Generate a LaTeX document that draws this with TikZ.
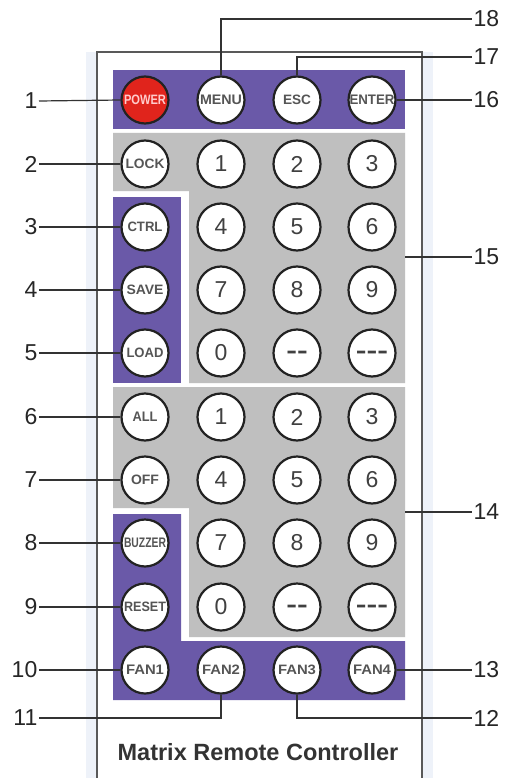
\documentclass[tikz,border=0pt]{standalone}
\usepackage{fontspec}
\setmainfont{Liberation Sans}
\definecolor{purp}{HTML}{6A59A8}
\definecolor{pgray}{HTML}{BFBFBF}
\definecolor{pred}{HTML}{E0241C}
\definecolor{btnline}{HTML}{222222}
\definecolor{btntext}{HTML}{555555}
\definecolor{bodyshade}{HTML}{EEF2F9}
\newcommand\bt[2]{\resizebox{#1pt}{9.5pt}{#2}}
\begin{document}
\begin{tikzpicture}[x=1pt,y=-1pt,
  btn/.style={circle, draw=btnline, line width=2.2pt, fill=white, minimum size=47pt, inner sep=0pt, text=btntext, font=\fontsize{13}{13}\selectfont\bfseries},
  num/.style={btn, text=black!75, font=\fontsize{23}{23}\selectfont},
  dsh/.style={num, text height=11.7pt, text depth=0pt, font=\fontsize{23}{23}\selectfont\bfseries},
  lbl/.style={font=\fontsize{23}{23}\selectfont, text=black!85, inner sep=1.5pt},
  lead/.style={draw=black!80, line width=1.2pt}]
\useasboundingbox (0,0) rectangle (511,778);
\fill[white] (0,0) rectangle (511,778);
% body shading strips
\fill[bodyshade] (86,52) rectangle (97,778);
\fill[bodyshade] (422,52) rectangle (433,778);
% panels
\fill[purp] (113,70) rectangle (405,129);
\fill[pgray] (113,133) -- (405,133) -- (405,383) -- (189,383) -- (189,191) -- (113,191) -- cycle;
\fill[purp] (113,197) rectangle (181,383);
\fill[pgray] (113,387) -- (405,387) -- (405,637) -- (189,637) -- (189,508) -- (113,508) -- cycle;
\fill[purp] (113,514) -- (181,514) -- (181,641) -- (405,641) -- (405,700) -- (113,700) -- cycle;
% outline
\draw[black!65, line width=1.3pt] (97,778) -- (97,52) -- (422,52) -- (422,778);
% buttons
\node[btn, fill=pred, text=red!20] (power) at (145,100) {\bt{42}{POWER}};
\node[btn] (menu) at (221,100) {\bt{42}{MENU}};
\node[btn] (esc) at (297,100) {\bt{28}{ESC}};
\node[btn] (enter) at (372,100) {\bt{45}{ENTER}};
\node[btn] (lock) at (145,164) {\bt{39}{LOCK}};
\node[num] (a1) at (221,164) {1};
\node[num] (a2) at (297,164) {2};
\node[num] (a3) at (372,164) {3};
\node[btn] (ctrl) at (145,227) {\bt{35}{CTRL}};
\node[num] (a4) at (221,227) {4};
\node[num] (a5) at (297,227) {5};
\node[num] (a6) at (372,227) {6};
\node[btn] (save) at (145,290) {\bt{37}{SAVE}};
\node[num] (a7) at (221,290) {7};
\node[num] (a8) at (297,290) {8};
\node[num] (a9) at (372,290) {9};
\node[btn] (load) at (145,353) {\bt{37}{LOAD}};
\node[num] (a0) at (221,353) {0};
\node[dsh] (ad2) at (297,353) {\scalebox{1.4}[1]{-{}-}};
\node[dsh] (ad3) at (372,353) {\scalebox{1.4}[1]{-{}-{}-}};
\node[btn] (all) at (145,417) {\bt{25}{ALL}};
\node[num] (b1) at (221,417) {1};
\node[num] (b2) at (297,417) {2};
\node[num] (b3) at (372,417) {3};
\node[btn] (off) at (145,480) {\bt{28}{OFF}};
\node[num] (b4) at (221,480) {4};
\node[num] (b5) at (297,480) {5};
\node[num] (b6) at (372,480) {6};
\node[btn] (buzzer) at (145,543) {\bt{42}{BUZZER}};
\node[num] (b7) at (221,543) {7};
\node[num] (b8) at (297,543) {8};
\node[num] (b9) at (372,543) {9};
\node[btn] (reset) at (145,607) {\bt{42}{RESET}};
\node[num] (b0) at (221,607) {0};
\node[dsh] (bd2) at (297,607) {\scalebox{1.4}[1]{-{}-}};
\node[dsh] (bd3) at (372,607) {\scalebox{1.4}[1]{-{}-{}-}};
\node[btn] (fan1) at (145,670) {\bt{38}{FAN1}};
\node[btn] (fan2) at (221,670) {\bt{38}{FAN2}};
\node[btn] (fan3) at (297,670) {\bt{38}{FAN3}};
\node[btn] (fan4) at (372,670) {\bt{38}{FAN4}};
% title
\node[font=\fontsize{23.5}{23.5}\selectfont\bfseries, text=black!80] (title) at (258,752) {Matrix Remote Controller};
% labels left
\node[lbl, anchor=east] (l1) at (39,101) {1};
\node[lbl, anchor=east] (l2) at (39,164) {2};
\node[lbl, anchor=east] (l3) at (39,227) {3};
\node[lbl, anchor=east] (l4) at (39,290) {4};
\node[lbl, anchor=east] (l5) at (39,353) {5};
\node[lbl, anchor=east] (l6) at (39,417) {6};
\node[lbl, anchor=east] (l7) at (39,480) {7};
\node[lbl, anchor=east] (l8) at (39,543) {8};
\node[lbl, anchor=east] (l9) at (39,607) {9};
\node[lbl, anchor=east] (l10) at (39,670) {10};
\node[lbl, anchor=east] (l11) at (39,718) {11};
% labels right
\node[lbl, anchor=west] (l18) at (472,19) {18};
\node[lbl, anchor=west] (l17) at (472,57) {17};
\node[lbl, anchor=west] (l16) at (472,100) {16};
\node[lbl, anchor=west] (l15) at (472,257) {15};
\node[lbl, anchor=west] (l14) at (472,512) {14};
\node[lbl, anchor=west] (l13) at (472,670) {13};
\node[lbl, anchor=west] (l12) at (472,718) {12};
\coordinate (e15) at (405,257);
\coordinate (e14) at (405,512);
% leaders
\draw[lead] (l1.east) -- (power.west);
\draw[lead] (l2.east) -- (lock.west);
\draw[lead] (l3.east) -- (ctrl.west);
\draw[lead] (l4.east) -- (save.west);
\draw[lead] (l5.east) -- (load.west);
\draw[lead] (l6.east) -- (all.west);
\draw[lead] (l7.east) -- (off.west);
\draw[lead] (l8.east) -- (buzzer.west);
\draw[lead] (l9.east) -- (reset.west);
\draw[lead] (l10.east) -- (fan1.west);
\draw[lead] (fan2.south) |- (l11.east);
\draw[lead] (fan3.south) |- (l12.west);
\draw[lead] (fan4.east) -- (l13.west);
\draw[lead] (e14) -- (l14.west);
\draw[lead] (e15) -- (l15.west);
\draw[lead] (enter.east) -- (l16.west);
\draw[lead] (esc.north) |- (l17.west);
\draw[lead] (menu.north) |- (l18.west);
\end{tikzpicture}
\end{document}
